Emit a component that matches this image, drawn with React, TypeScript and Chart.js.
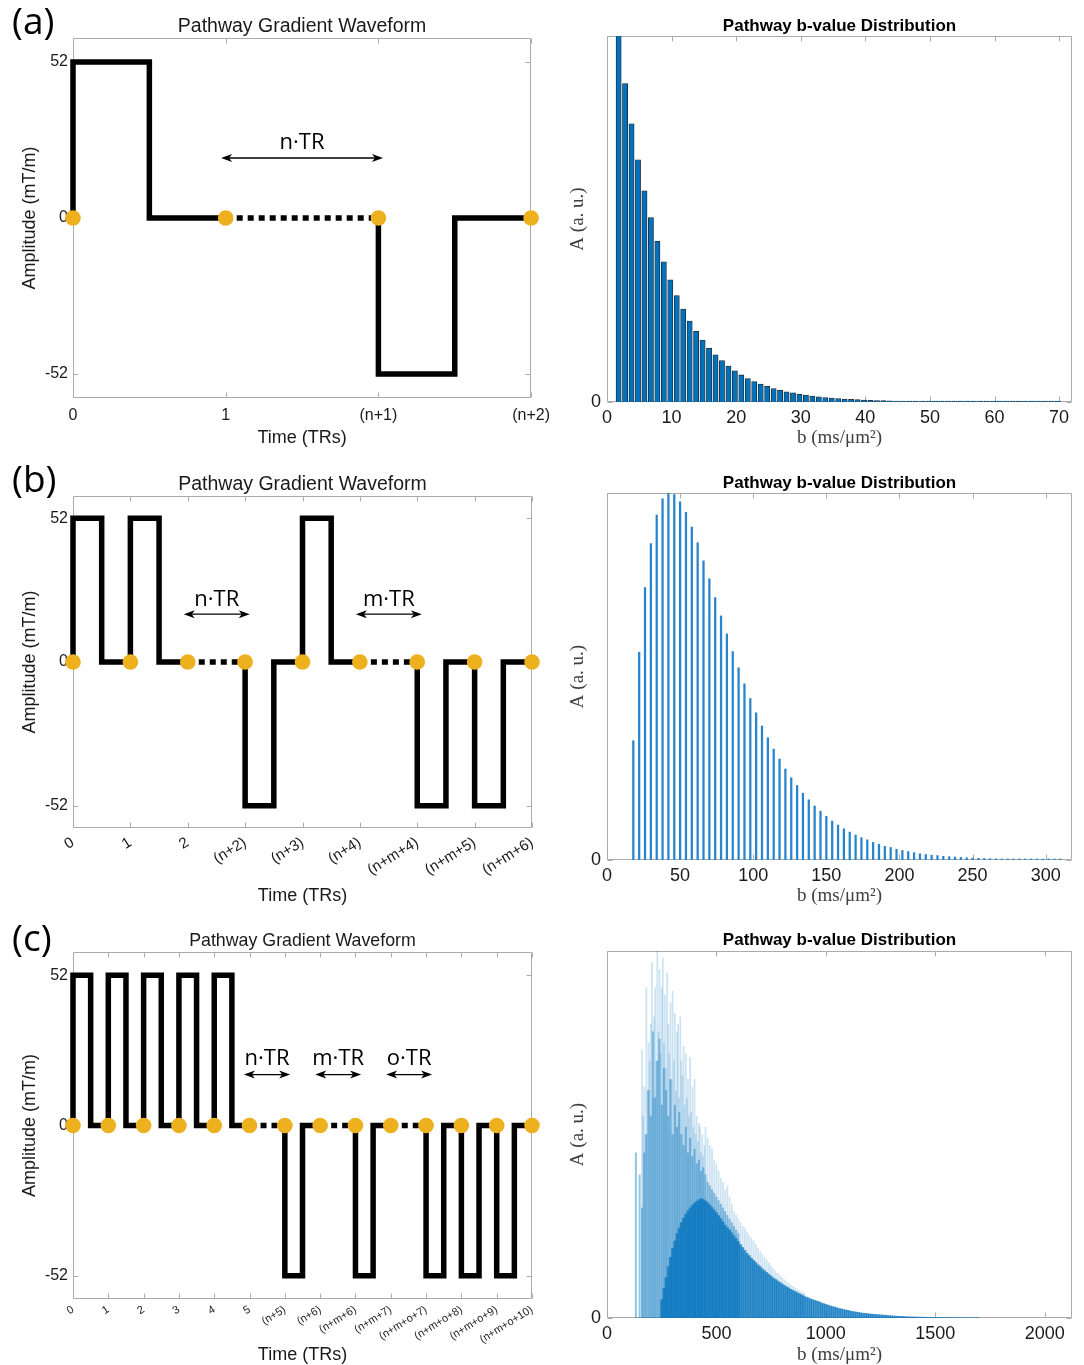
import React, { useEffect, useRef } from 'react';
import { Chart, registerables } from 'chart.js';

Chart.register(...registerables);

const SANS = '"Liberation Sans", Arial, Helvetica, sans-serif';
const SERIF = '"Liberation Serif", "DejaVu Serif", serif';
const OPEN = '"Open Sans", "Noto Sans", sans-serif';

// ---------------- DATA ----------------
const WAVE_TITLE = 'Pathway Gradient Waveform';
const DIST_TITLE = 'Pathway b-value Distribution';
const WAVE_X_TITLE = 'Time (TRs)';
const WAVE_Y_TITLE = 'Amplitude (mT/m)';
const DIST_X_TITLE = 'b (ms/\u03bcm\u00b2)';
const DIST_Y_TITLE = 'A (a. u.)';
const G_TICKS = [-52, 0, 52];

// (a) waveform
const A_LABELS = ['0', '1', '(n+1)', '(n+2)'];
const A_T = [0, 0, 0.5, 0.5, 1, 2, 2, 2.5, 2.5, 3];
const A_G = [0, 52, 52, 0, 0, 0, -52, -52, 0, 0];
const A_DOTTED = [[1, 2]];
const A_DOTS = [0, 1, 2, 3];
const A_ARROWS = [{ x0: 0.97, x1: 2.03, y: 20, label: 'n\u00b7TR', ly: 25 }];

// (b) waveform
const B_LABELS = ['0', '1', '2', '(n+2)', '(n+3)', '(n+4)', '(n+m+4)', '(n+m+5)', '(n+m+6)'];
const B_T = [0, 0, 0.5, 0.5, 1, 1, 1.5, 1.5, 2, 3, 3, 3.5, 3.5, 4, 4, 4.5, 4.5, 5, 6, 6, 6.5, 6.5, 7, 7, 7.5, 7.5, 8];
const B_G = [0, 52, 52, 0, 0, 52, 52, 0, 0, 0, -52, -52, 0, 0, 52, 52, 0, 0, 0, -52, -52, 0, 0, -52, -52, 0, 0];
const B_DOTTED = [[2, 3], [5, 6]];
const B_DOTS = [0, 1, 2, 3, 4, 5, 6, 7, 8];
const B_ARROWS = [
  { x0: 1.93, x1: 3.08, y: 17.3, label: 'n\u00b7TR', ly: 22.6 },
  { x0: 4.93, x1: 6.08, y: 17.3, label: 'm\u00b7TR', ly: 22.6 },
];

// (c) waveform
const C_LABELS = ['0', '1', '2', '3', '4', '5', '(n+5)', '(n+6)', '(n+m+6)', '(n+m+7)', '(n+m+o+7)', '(n+m+o+8)', '(n+m+o+9)', '(n+m+o+10)'];
const C_T = [0, 0, 0.5, 0.5, 1, 1, 1.5, 1.5, 2, 2, 2.5, 2.5, 3, 3, 3.5, 3.5, 4, 4, 4.5, 4.5, 5, 6, 6, 6.5, 6.5, 7, 8, 8, 8.5, 8.5, 9, 10, 10, 10.5, 10.5, 11, 11, 11.5, 11.5, 12, 12, 12.5, 12.5, 13];
const C_G = [0, 52, 52, 0, 0, 52, 52, 0, 0, 52, 52, 0, 0, 52, 52, 0, 0, 52, 52, 0, 0, 0, -52, -52, 0, 0, 0, -52, -52, 0, 0, 0, -52, -52, 0, 0, -52, -52, 0, 0, -52, -52, 0, 0];
const C_DOTTED = [[5, 6], [7, 8], [9, 10]];
const C_DOTS = [0, 1, 2, 3, 4, 5, 6, 7, 8, 9, 10, 11, 12, 13];
const C_ARROWS = [
  { x0: 4.84, x1: 6.15, y: 17.6, label: 'n\u00b7TR', ly: 23 },
  { x0: 6.86, x1: 8.16, y: 17.6, label: 'm\u00b7TR', ly: 23 },
  { x0: 8.87, x1: 10.17, y: 17.6, label: 'o\u00b7TR', ly: 23 },
];

// (a) distribution
const DA_TICKS = [0, 10, 20, 30, 40, 50, 60, 70];
const DA_B = [1.8, 2.8, 3.8, 4.8, 5.8, 6.8, 7.8, 8.8, 9.8, 10.8, 11.8, 12.8, 13.8, 14.8, 15.8, 16.8, 17.8, 18.8, 19.8, 20.8, 21.8, 22.8, 23.8, 24.8, 25.8, 26.8, 27.8, 28.8, 29.8, 30.8, 31.8, 32.8, 33.8, 34.8, 35.8, 36.8, 37.8, 38.8, 39.8, 40.8, 41.8, 42.8, 43.8, 44.8, 45.8, 46.8, 47.8, 48.8, 49.8, 50.8, 51.8, 52.8, 53.8, 54.8, 55.8, 56.8, 57.8, 58.8, 59.8, 60.8, 61.8, 62.8, 63.8, 64.8, 65.8, 66.8, 67.8, 68.8, 69.8];
const DA_A = [1.02, 0.870, 0.760, 0.662, 0.577, 0.504, 0.439, 0.383, 0.334, 0.291, 0.254, 0.221, 0.193, 0.169, 0.147, 0.129, 0.113, 0.098, 0.085, 0.074, 0.064, 0.056, 0.049, 0.043, 0.037, 0.032, 0.028, 0.025, 0.021, 0.019, 0.016, 0.014, 0.012, 0.011, 0.0095, 0.0083, 0.0072, 0.0063, 0.0055, 0.0048, 0.0042, 0.0036, 0.0032, 0.0028, 0.0024, 0.0021, 0.0018, 0.0016, 0.0014, 0.0012, 0.0011, 0.0009, 0.0008, 0.0007, 0.0006, 0.0005, 0.00045, 0.0004, 0.00035, 0.0003, 0.00025, 0.0002, 0.0002, 0.00015, 0.00015, 0.0001, 0.0001, 0.0001, 0.0001];

// (b) distribution
const DB_TICKS = [0, 50, 100, 150, 200, 250, 300];
const DB_B = [18, 22, 26, 30, 34, 38, 42, 46, 50, 54, 58, 62, 66, 70, 74, 78, 82, 86, 90, 94, 98, 102, 106, 110, 114, 118, 122, 126, 130, 134, 138, 142, 146, 150, 154, 158, 162, 166, 170, 174, 178, 182, 186, 190, 194, 198, 202, 206, 210, 214, 218, 222, 226, 230, 234, 238, 242, 246, 250, 254, 258, 262, 266, 270, 274, 278, 282, 286, 290, 294, 298, 302, 306, 310];
const DB_A = [0.325, 0.566, 0.742, 0.862, 0.940, 0.984, 1.0, 0.996, 0.976, 0.947, 0.907, 0.864, 0.815, 0.766, 0.715, 0.665, 0.616, 0.568, 0.524, 0.480, 0.440, 0.401, 0.365, 0.333, 0.302, 0.275, 0.248, 0.224, 0.203, 0.182, 0.164, 0.147, 0.133, 0.119, 0.106, 0.095, 0.085, 0.076, 0.068, 0.061, 0.055, 0.048, 0.043, 0.037, 0.034, 0.029, 0.026, 0.023, 0.020, 0.017, 0.015, 0.013, 0.012, 0.010, 0.009, 0.008, 0.007, 0.006, 0.005, 0.0045, 0.004, 0.0035, 0.003, 0.0026, 0.0023, 0.002, 0.0017, 0.0015, 0.0013, 0.0011, 0.001, 0.0009, 0.0008, 0.0007];

// (c) distribution (three overlapping translucent layers)
const DC_TICKS = [0, 500, 1000, 1500, 2000];
const DC_LIGHT_B = [160, 165, 170, 175, 180, 185, 190, 195, 200, 205, 210, 215, 220, 225, 230, 235, 240, 245, 250, 255, 260, 265, 270, 275, 280, 285, 290, 295, 300, 305, 310, 315, 320, 325, 330, 335, 340, 345, 350, 355, 360, 365, 370, 375, 380, 385, 390, 395, 400, 405, 410, 415, 420, 425, 430, 435, 440, 445,
  450, 460, 470, 480, 490, 500, 510, 520, 530, 540, 550, 560, 570, 580, 590, 600, 610, 620, 630, 640, 650, 660, 670, 680, 690, 700, 710, 720, 730, 740, 750, 760, 770, 780, 790, 800, 810, 820, 830, 840, 850, 860, 870, 880, 890, 900];
const DC_LIGHT_A = [0.73, 0.55, 0.63, 0.50, 0.90, 0.62, 0.75, 0.70, 0.80, 0.97, 0.60, 0.82, 0.90, 0.70, 1.0, 0.78, 0.95, 0.72, 0.90, 0.98, 0.75, 0.88, 0.68, 0.94, 0.80, 0.72, 0.86, 0.65, 0.89, 0.70, 0.83, 0.62, 0.78, 0.80, 0.60, 0.82, 0.70, 0.66, 0.74, 0.58, 0.72, 0.60, 0.65, 0.55, 0.71, 0.56, 0.63, 0.52, 0.65, 0.50, 0.55, 0.48, 0.53, 0.52, 0.45, 0.50, 0.44, 0.47,
  0.52, 0.49, 0.47, 0.46, 0.43, 0.42, 0.40, 0.38, 0.37, 0.35, 0.36, 0.33, 0.31, 0.29, 0.28, 0.27, 0.26, 0.25, 0.245, 0.235, 0.225, 0.218, 0.21, 0.20, 0.19, 0.18, 0.172, 0.165, 0.158, 0.15, 0.142, 0.135, 0.128, 0.122, 0.116, 0.11, 0.105, 0.10, 0.095, 0.09, 0.086, 0.082, 0.078, 0.075, 0.071, 0.068];
const DC_MED_B = [132, 149, 160, 170, 180, 190, 200, 210, 220, 230, 240, 250, 260, 270, 280, 290, 300, 310, 320, 330, 340, 350, 360, 370, 380, 390, 400, 410, 420, 430, 440, 450, 460, 470, 480, 490, 500, 510, 520, 530, 540, 550, 560, 570, 580, 590, 600];
const DC_MED_A = [0.45, 0.39, 0.30, 0.45, 0.50, 0.62, 0.55, 0.78, 0.60, 0.70, 0.76, 0.58, 0.68, 0.62, 0.55, 0.65, 0.50, 0.58, 0.52, 0.56, 0.50, 0.47, 0.52, 0.45, 0.49, 0.44, 0.46, 0.42, 0.43, 0.40, 0.41, 0.39, 0.37, 0.36, 0.35, 0.34, 0.33, 0.32, 0.31, 0.30, 0.29, 0.28, 0.27, 0.26, 0.25, 0.24, 0.23];
const DC_CORE_B = [250, 260, 270, 280, 290, 300, 310, 320, 330, 340,
  350, 360, 370, 380, 390, 400, 410, 420, 430, 440,
  450, 460, 470, 480, 490, 500, 510, 520, 530, 540,
  550, 560, 570, 580, 590, 600, 610, 620, 630, 640,
  650, 660, 670, 680, 690, 700, 710, 720, 730, 740,
  750, 760, 770, 780, 790, 800, 810, 820, 830, 840,
  850, 860, 870, 880, 890, 900, 910, 920, 930, 940,
  950, 960, 970, 980, 990, 1000, 1010, 1020, 1030, 1040,
  1050, 1060, 1070, 1080, 1090, 1100, 1110, 1120, 1130, 1140,
  1150, 1160, 1170, 1180, 1190, 1200, 1210, 1220, 1230, 1240,
  1250, 1260, 1270, 1280, 1290, 1300, 1310, 1320, 1330, 1340,
  1350, 1360, 1370, 1380, 1390, 1400, 1410, 1420, 1430, 1440,
  1450, 1460, 1470, 1480, 1490, 1500, 1510, 1520, 1530, 1540,
  1550, 1560, 1570, 1580, 1590, 1600, 1610, 1620, 1630, 1640,
  1650, 1660, 1670, 1680, 1690, 1700];
const DC_CORE_A = [0.05, 0.08, 0.11, 0.14, 0.165, 0.19, 0.21, 0.23, 0.245, 0.26,
  0.272, 0.283, 0.292, 0.300, 0.307, 0.313, 0.318, 0.322, 0.325, 0.323,
  0.319, 0.314, 0.308, 0.301, 0.294, 0.287, 0.279, 0.271, 0.262, 0.253,
  0.246, 0.24, 0.232, 0.224, 0.216, 0.208, 0.2, 0.192, 0.184, 0.176,
  0.17, 0.163, 0.157, 0.151, 0.145, 0.14, 0.134, 0.129, 0.124, 0.119,
  0.114, 0.109, 0.105, 0.101, 0.097, 0.093, 0.089, 0.085, 0.082, 0.078,
  0.075, 0.072, 0.069, 0.066, 0.063, 0.06, 0.057, 0.055, 0.052, 0.05,
  0.048, 0.046, 0.044, 0.041, 0.039, 0.037, 0.035, 0.033, 0.031, 0.03,
  0.028, 0.026, 0.025, 0.023, 0.022, 0.021, 0.019, 0.018, 0.017, 0.016,
  0.015, 0.014, 0.013, 0.0125, 0.012, 0.011, 0.0105, 0.01, 0.0095, 0.009,
  0.0085, 0.008, 0.0075, 0.007, 0.0065, 0.006, 0.0055, 0.005, 0.0047, 0.0044,
  0.0041, 0.0038, 0.0035, 0.0032, 0.003, 0.0028, 0.0026, 0.0024, 0.0023, 0.0022,
  0.0021, 0.002, 0.0019, 0.0018, 0.0017, 0.0016, 0.0015, 0.0014, 0.0013, 0.0012,
  0.0011, 0.001, 0.0009, 0.0009, 0.0008, 0.0008, 0.0007, 0.0007, 0.0006, 0.0006,
  0.0005, 0.0005, 0.0004, 0.0004, 0.0003, 0.0003];

// ---------------- STYLE / LAYOUT ----------------
const AXIS_GRAY = '#ababab';
const TEXT = '#1a1a1a';

const LAY_WA = { padRight: 28, titleSize: 19.5, titlePad: { top: 17, bottom: 1.5 }, xAxisH: 57, yAxisW: 73, xTickSize: 16, xTickPad: 10, rot: 0, xTitlePb: 8, yTitlePt: 21 };
const LAY_WB = { padRight: 28, titleSize: 19.5, titlePad: { top: 19.5, bottom: 2 }, xAxisH: 82, yAxisW: 73, xTickSize: 15, xTickPad: 7, rot: 32, xTitlePb: 5, yTitlePt: 21 };
const LAY_WC = { padRight: 28, titleSize: 17.8, titlePad: { top: 22, bottom: 2.2 }, xAxisH: 66, yAxisW: 73, xTickSize: 11, xTickPad: 5, rot: 32, xTitlePb: 1, yTitlePt: 21 };
const LAY_DA = { padRight: 12, titlePad: { top: 17.5, bottom: 1.5 }, xAxisH: 53, yAxisW: 47, xTitlePb: 7.5 };
const LAY_DB = { padRight: 12, titlePad: { top: 20, bottom: 1 }, xAxisH: 50, yAxisW: 47, xTitlePb: 4.5 };
const LAY_DC = { padRight: 12, titlePad: { top: 22, bottom: 2 }, xAxisH: 47, yAxisW: 47, xTitlePb: 0.5 };

// ---------------- PLUGINS ----------------
const matlabAxes = {
  id: 'matlabAxes',
  beforeDatasetsDraw(chart: any, _args: any, opts: any) {
    const { ctx, chartArea: a } = chart;
    const xs = chart.scales.x;
    const ys = chart.scales.y;
    const L = opts.tickLen || 5;
    ctx.save();
    ctx.strokeStyle = AXIS_GRAY;
    ctx.lineWidth = 1;
    const l = Math.round(a.left) + 0.5;
    const r = Math.round(a.right) - 0.5;
    const t = Math.round(a.top) + 0.5;
    const b = Math.round(a.bottom) - 0.5;
    ctx.beginPath();
    ctx.rect(l, t, r - l, b - t);
    for (const tk of xs.ticks) {
      const px = Math.round(xs.getPixelForValue(tk.value)) + 0.5;
      ctx.moveTo(px, b); ctx.lineTo(px, b - L);
      ctx.moveTo(px, t); ctx.lineTo(px, t + L);
    }
    for (const tk of ys.ticks) {
      const py = Math.round(ys.getPixelForValue(tk.value)) + 0.5;
      ctx.moveTo(l, py); ctx.lineTo(l + L, py);
      ctx.moveTo(r, py); ctx.lineTo(r - L, py);
    }
    ctx.stroke();
    ctx.restore();
  },
};

function arrowHead(ctx: any, tx: number, ty: number, dir: number) {
  ctx.beginPath();
  ctx.moveTo(tx, ty);
  ctx.lineTo(tx + dir * 11, ty - 4);
  ctx.lineTo(tx + dir * 8, ty);
  ctx.lineTo(tx + dir * 11, ty + 4);
  ctx.closePath();
  ctx.fill();
}

const waveArrows = {
  id: 'waveArrows',
  afterDatasetsDraw(chart: any, _args: any, opts: any) {
    const { ctx } = chart;
    const xs = chart.scales.x;
    const ys = chart.scales.y;
    ctx.save();
    ctx.strokeStyle = '#000';
    ctx.fillStyle = '#000';
    ctx.lineWidth = 1.4;
    for (const it of opts.items || []) {
      const x0 = xs.getPixelForValue(it.x0);
      const x1 = xs.getPixelForValue(it.x1);
      const py = ys.getPixelForValue(it.y);
      ctx.beginPath();
      ctx.moveTo(x0 + 6, py);
      ctx.lineTo(x1 - 6, py);
      ctx.stroke();
      arrowHead(ctx, x0, py, 1);
      arrowHead(ctx, x1, py, -1);
      ctx.font = '22px ' + OPEN;
      ctx.textAlign = 'center';
      ctx.textBaseline = 'middle';
      ctx.fillText(it.label, xs.getPixelForValue((it.x0 + it.x1) / 2), ys.getPixelForValue(it.ly));
    }
    ctx.restore();
  },
};

// ---------------- CONFIG BUILDERS ----------------
function waveConfig(d: any, L: any) {
  const line = d.t.map((x: number, i: number) => ({ x, y: d.g[i] }));
  const dots = d.dots.map((x: number) => ({ x, y: 0 }));
  const isDotted = (a: number, b: number) => d.dotted.some((s: number[]) => a === s[0] && b === s[1]);
  const xMax = d.labels.length - 1;
  return {
    type: 'line',
    data: {
      datasets: [
        {
          data: dots, showLine: false, pointRadius: 7.8, pointHoverRadius: 7.8,
          pointBackgroundColor: '#EDB120', pointBorderColor: '#EDB120', pointBorderWidth: 0,
          clip: false, order: 0,
        },
        {
          data: line, borderColor: '#000', borderWidth: 5.5, pointRadius: 0, pointHoverRadius: 0,
          tension: 0, fill: false, borderJoinStyle: 'miter', borderCapStyle: 'butt', clip: false, order: 1,
          segment: { borderDash: (ctx: any) => (isDotted(ctx.p0.parsed.x, ctx.p1.parsed.x) ? [6, 5] : undefined) },
        },
      ],
    },
    options: {
      responsive: false, animation: false, events: [], devicePixelRatio: 1,
      layout: { padding: { left: 0, right: L.padRight, top: 0, bottom: 0 }, autoPadding: false },
      plugins: {
        legend: { display: false },
        tooltip: { enabled: false },
        title: {
          display: true, text: WAVE_TITLE, fullSize: false, color: TEXT,
          font: { family: SANS, size: L.titleSize, weight: 'normal', lineHeight: 1 },
          padding: L.titlePad,
        },
        matlabAxes: { tickLen: 5 },
        waveArrows: { items: d.arrows },
      },
      scales: {
        x: {
          type: 'linear', min: 0, max: xMax, offset: false,
          grid: { display: false, drawTicks: false }, border: { display: false },
          afterBuildTicks: (s: any) => { s.ticks = d.labels.map((_: string, i: number) => ({ value: i })); },
          afterFit: (s: any) => { s.height = L.xAxisH; },
          ticks: {
            autoSkip: false, minRotation: L.rot, maxRotation: L.rot, padding: L.xTickPad, color: TEXT,
            font: { family: SANS, size: L.xTickSize, lineHeight: 1 },
            callback: (_v: any, i: number) => d.labels[i],
          },
          title: {
            display: true, text: WAVE_X_TITLE, color: TEXT,
            font: { family: SANS, size: 18, lineHeight: 1 },
            padding: { top: 0, bottom: L.xTitlePb },
          },
        },
        y: {
          type: 'linear', min: -60, max: 60,
          grid: { display: false, drawTicks: false }, border: { display: false },
          afterBuildTicks: (s: any) => { s.ticks = G_TICKS.map((v) => ({ value: v })); },
          afterFit: (s: any) => { s.width = L.yAxisW; },
          ticks: { autoSkip: false, padding: 5, color: TEXT, font: { family: SANS, size: 16, lineHeight: 1 }, callback: (v: any) => String(v) },
          title: {
            display: true, text: WAVE_Y_TITLE, color: TEXT,
            font: { family: SANS, size: 18, lineHeight: 1 },
            padding: { top: L.yTitlePt, bottom: 0 },
          },
        },
      },
    },
    plugins: [matlabAxes, waveArrows],
  };
}

function distConfig(sets: any[], ticks: number[], xMax: number, L: any) {
  return {
    type: 'bar',
    data: {
      datasets: sets.map((s: any) => ({
        data: s.b.map((x: number, i: number) => ({ x, y: s.a[i] })),
        backgroundColor: s.color,
        borderColor: s.edge || 'rgba(0,0,0,0)',
        borderWidth: s.edgeW || 0,
        borderSkipped: 'start',
        barThickness: s.thick,
        minBarLength: s.minLen || 0,
        grouped: false,
        order: s.order || 0,
      })),
    },
    options: {
      responsive: false, animation: false, events: [], devicePixelRatio: 1,
      layout: { padding: { left: 0, right: L.padRight, top: 0, bottom: 0 }, autoPadding: false },
      plugins: {
        legend: { display: false },
        tooltip: { enabled: false },
        title: {
          display: true, text: DIST_TITLE, fullSize: false, color: '#000',
          font: { family: SANS, size: 17, weight: 'bold', lineHeight: 1 },
          padding: L.titlePad,
        },
        matlabAxes: { tickLen: 5 },
      },
      scales: {
        x: {
          type: 'linear', min: 0, max: xMax, offset: false,
          grid: { display: false, offset: false, drawTicks: false }, border: { display: false },
          afterBuildTicks: (s: any) => { s.ticks = ticks.map((v) => ({ value: v })); },
          afterFit: (s: any) => { s.height = L.xAxisH; },
          ticks: {
            autoSkip: false, minRotation: 0, maxRotation: 0, padding: 7, color: TEXT,
            font: { family: SANS, size: 18, lineHeight: 1 },
            callback: (v: any) => String(v),
          },
          title: {
            display: true, text: DIST_X_TITLE, color: '#404040',
            font: { family: SERIF, size: 19, lineHeight: 1 },
            padding: { top: 0, bottom: L.xTitlePb },
          },
        },
        y: {
          type: 'linear', min: 0, max: 1,
          grid: { display: false, drawTicks: false }, border: { display: false },
          afterBuildTicks: (s: any) => { s.ticks = [{ value: 0 }]; },
          afterFit: (s: any) => { s.width = L.yAxisW; },
          ticks: { padding: 6, color: TEXT, font: { family: SANS, size: 18, lineHeight: 1 }, callback: (v: any) => String(v) },
          title: {
            display: true, text: DIST_Y_TITLE, color: '#404040',
            font: { family: SERIF, size: 19, lineHeight: 1 },
            padding: { top: 8.5, bottom: 0 },
          },
        },
      },
    },
    plugins: [matlabAxes],
  };
}

const CANVASES = [
  { left: 0, top: 0, w: 560, h: 455 },
  { left: 560, top: 0, w: 524, h: 455 },
  { left: 0, top: 455, w: 560, h: 455 },
  { left: 560, top: 455, w: 524, h: 455 },
  { left: 0, top: 910, w: 560, h: 455 },
  { left: 560, top: 910, w: 524, h: 455 },
];

const PANEL_LABELS = [
  { text: '(a)', top: -2 },
  { text: '(b)', top: 456 },
  { text: '(c)', top: 915 },
];

export default function App() {
  const r0 = useRef<HTMLCanvasElement>(null);
  const r1 = useRef<HTMLCanvasElement>(null);
  const r2 = useRef<HTMLCanvasElement>(null);
  const r3 = useRef<HTMLCanvasElement>(null);
  const r4 = useRef<HTMLCanvasElement>(null);
  const r5 = useRef<HTMLCanvasElement>(null);
  const refs = [r0, r1, r2, r3, r4, r5];

  useEffect(() => {
    const cfgs: any[] = [
      waveConfig({ t: A_T, g: A_G, dotted: A_DOTTED, dots: A_DOTS, labels: A_LABELS, arrows: A_ARROWS }, LAY_WA),
      distConfig([{ b: DA_B, a: DA_A, color: '#0072BD', edge: '#262626', edgeW: 0.8, thick: 5.2, minLen: 1 }], DA_TICKS, 72, LAY_DA),
      waveConfig({ t: B_T, g: B_G, dotted: B_DOTTED, dots: B_DOTS, labels: B_LABELS, arrows: B_ARROWS }, LAY_WB),
      distConfig([{ b: DB_B, a: DB_A, color: 'rgb(40,132,204)', thick: 1.6, minLen: 1 }], DB_TICKS, 318, LAY_DB),
      waveConfig({ t: C_T, g: C_G, dotted: C_DOTTED, dots: C_DOTS, labels: C_LABELS, arrows: C_ARROWS }, LAY_WC),
      distConfig([
        { b: DC_CORE_B, a: DC_CORE_A, color: 'rgba(0,114,189,0.72)', thick: 2.3, order: 0 },
        { b: DC_MED_B, a: DC_MED_A, color: 'rgba(0,114,189,0.42)', thick: 1.4, order: 1 },
        { b: DC_LIGHT_B, a: DC_LIGHT_A, color: 'rgba(0,114,189,0.2)', thick: 1.1, order: 2 },
      ], DC_TICKS, 2125, LAY_DC),
    ];
    const charts = cfgs.map((c, i) => new Chart(refs[i].current as HTMLCanvasElement, c));
    return () => charts.forEach((c) => c.destroy());
  }, []);

  return (
    <div style={{ position: 'absolute', left: 0, top: 0, width: 1084, height: 1365, background: '#fff', overflow: 'hidden' }}>
      {CANVASES.map((c, i) => (
        <canvas
          key={i}
          ref={refs[i]}
          width={c.w}
          height={c.h}
          style={{ position: 'absolute', left: c.left, top: c.top, width: c.w, height: c.h }}
        />
      ))}
      {PANEL_LABELS.map((p) => (
        <div
          key={p.text}
          style={{ position: 'absolute', left: 12, top: p.top, height: 44, lineHeight: '44px', fontSize: 37, fontFamily: OPEN, color: '#000' }}
        >
          {p.text}
        </div>
      ))}
    </div>
  );
}
